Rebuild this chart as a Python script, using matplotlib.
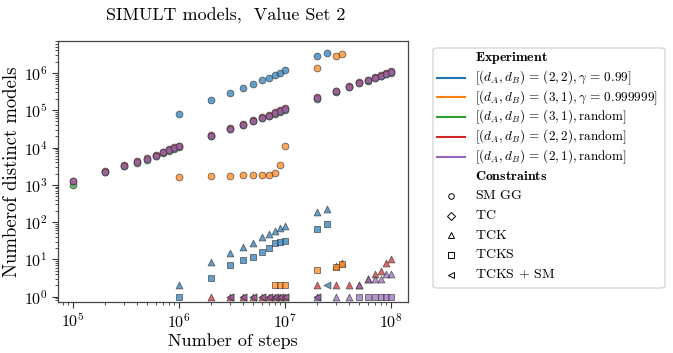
import matplotlib
matplotlib.use('Agg')
import matplotlib.pyplot as plt
from matplotlib.lines import Line2D
from matplotlib.patches import FancyBboxPatch

plt.rcParams['font.family'] = 'serif'
plt.rcParams['font.serif'] = ['cmr10', 'DejaVu Serif']
plt.rcParams['mathtext.fontset'] = 'cm'
plt.rcParams['axes.formatter.use_mathtext'] = True

# step grids
steps_low = [1e5, 2e5, 3e5, 4e5, 5e5, 6e5, 7e5, 8e5, 9e5, 1e6]
steps_mid = [2e6, 3e6, 4e6, 5e6, 6e6, 7e6, 8e6, 9e6, 1e7]
steps_high = [2e7, 3e7, 4e7, 5e7, 6e7, 7e7, 8e7, 9e7, 1e8]
steps_random = steps_low + steps_mid + steps_high

# (2,2) gamma = 0.99
blue_steps = [1e6, 2e6, 3e6, 4e6, 5e6, 6e6, 7e6, 8e6, 9e6, 1e7, 2e7, 2.5e7]
blue_smgg = [8.1e4, 1.87e5, 2.95e5, 4.0e5, 5.2e5, 6.3e5, 7.3e5, 8.8e5, 1.02e6, 1.17e6, 2.76e6, 3.5e6]
blue_tck = [2.1, 8.5, 14.8, 22, 28, 40, 49, 59, 71, 80, 182, 224]
blue_tcks = [1, 3.2, 7.2, 9.4, 11.3, 15.8, 20.5, 27, 29.6, 31, 64, 87]
blue_tcks_sm_steps = [2.5e7]
blue_tcks_sm = [2]

# (3,1) gamma = 0.999999
orange_steps = [1e6, 2e6, 3e6, 4e6, 5e6, 6e6, 7e6, 8e6, 9e6, 1e7, 2e7, 3e7, 3.4e7]
orange_smgg = [1580, 1740, 1750, 1780, 1780, 1780, 1870, 2100, 3450, 11000, 1.38e6, 2.9e6, 3.3e6]
orange_tcks_steps = [8e6, 9e6, 1e7, 2e7, 3e7, 3.4e7]
orange_tcks = [2, 2, 2, 5.3, 6.2, 7.4]
orange_tck_steps = [3e7, 3.4e7]
orange_tck = [6.8, 8.0]

# random experiments, SM GG
purple_smgg = [1230, 2240, 3240, 4100, 4800, 6100, 7400, 8600, 9700, 10700,
               21000, 31600, 41000, 52000, 62000, 72000, 83000, 95000, 107000,
               210000, 320000, 430000, 540000, 630000, 730000, 840000, 950000, 1050000]
red_smgg = [1280, 2300, 3500, 4300, 5200, 6400, 7800, 9000, 10200, 11300,
            22000, 33500, 43500, 55000, 65000, 76000, 87000, 99000, 112000,
            220000, 330000, 450000, 560000, 660000, 760000, 870000, 990000, 1100000]
green_smgg = [1000, 2150, 3100, 3950, 4650, 5900, 7150, 8300, 9400, 10400,
              20400, 30700, 40000, 50500, 60000, 70000, 80500, 92000, 104000,
              205000, 310000, 420000, 525000, 615000, 710000, 815000, 925000, 1020000]

# (2,2) random, low constraints
red_tck_steps = [2e6, 3e6, 4e6, 5e6, 6e6, 7e6, 8e6, 9e6, 1e7,
                 2e7, 3e7, 4e7, 5e7, 6e7, 7e7, 8e7, 9e7, 1e8]
red_tck = [1, 1, 1, 1, 1, 1, 1, 1, 1, 2, 2, 2, 2, 3, 4, 5, 8, 10]
red_tcks_sm_steps = [3e6, 4e6, 5e6, 6e6, 7e6, 8e6, 9e6, 1e7, 2e7]
red_tcks_sm = [1, 1, 1, 1, 1, 1, 1, 1, 1]

# (2,1) random, low constraints
purple_tck_steps = [2e7, 3e7, 4e7, 5e7, 6e7, 7e7, 8e7, 9e7, 1e8]
purple_tck = [1, 1, 1, 2, 3, 3, 3, 4, 4]
purple_tcks_steps = [5e7, 6e7, 7e7, 8e7, 9e7, 1e8]
purple_tcks = [1, 1, 1, 1, 1, 1]
purple_tcks_sm_steps = [3e6, 4e6, 5e6, 6e6, 7e6, 8e6, 9e6, 1e7, 2e7]
purple_tcks_sm = [1, 1, 1, 1, 1, 1, 1, 1, 1]

experiments = [r'$[(d_A, d_B) \,=\, (2, 2), \gamma \,=\, 0.99]$',
               r'$[(d_A, d_B) \,=\, (3, 1), \gamma \,=\, 0.999999]$',
               r'$[(d_A, d_B) \,=\, (3, 1), \mathrm{random}]$',
               r'$[(d_A, d_B) \,=\, (2, 2), \mathrm{random}]$',
               r'$[(d_A, d_B) \,=\, (2, 1), \mathrm{random}]$']
colors = ['tab:blue', 'tab:orange', 'tab:green', 'tab:red', 'tab:purple']
constraints = [r'$\mathrm{SM\ GG}$', r'$\mathrm{TC}$', r'$\mathrm{TCK}$', r'$\mathrm{TCKS}$',
               r'$\mathrm{TCKS}\, + \,\mathrm{SM}$']
markers = ['o', 'D', '^', 's', '<']

W, H = 673, 353
fig = plt.figure(figsize=(W / 100, H / 100), dpi=100)
ax = fig.add_axes([0.086, 0.145, 0.52, 0.739])

kw = dict(s=24, alpha=0.7, edgecolors='#333333', linewidths=0.6)


def pts(x, y, c, m):
    ax.scatter(x, y, color=c, marker=m, **kw)


pts(blue_steps, blue_smgg, colors[0], 'o')
pts(blue_steps, blue_tck, colors[0], '^')
pts(blue_steps, blue_tcks, colors[0], 's')
pts(blue_tcks_sm_steps, blue_tcks_sm, colors[0], '<')

pts(orange_steps, orange_smgg, colors[1], 'o')
pts(orange_tck_steps, orange_tck, colors[1], '^')
pts(orange_tcks_steps, orange_tcks, colors[1], 's')

pts(steps_random, green_smgg, colors[2], 'o')

pts(steps_random, red_smgg, colors[3], 'o')
pts(red_tck_steps, red_tck, colors[3], '^')
pts(red_tcks_sm_steps, red_tcks_sm, colors[3], '<')

pts(steps_random, purple_smgg, colors[4], 'o')
pts(purple_tck_steps, purple_tck, colors[4], '^')
pts(purple_tcks_steps, purple_tcks, colors[4], 's')
pts(purple_tcks_sm_steps, purple_tcks_sm, colors[4], '<')

ax.set_xscale('log')
ax.set_yscale('log')
ax.set_xlim(7.2e4, 1.43e8)
ax.set_ylim(0.73, 7.2e6)
ax.set_xlabel('Number of steps', fontsize=13, labelpad=2)
ax.set_ylabel('Numberof distinct models', fontsize=13.5, labelpad=2)
ax.tick_params(labelsize=11.5, direction='out', length=4, width=0.8, colors='#333333', labelcolor='black')
ax.tick_params(which='minor', length=2, width=0.6, colors='#333333')
for sp in ax.spines.values():
    sp.set_color('#444444')
    sp.set_linewidth(0.9)

fig.text(0.336, 0.956, 'SIMULT models,  Value Set 2', fontsize=13, ha='center', va='center')

# legend drawn row by row so that every row gets the same height
frame = FancyBboxPatch((433 / W, 1 - 288 / H), 232 / W, 240 / H,
                       boxstyle='round,pad=0,rounding_size=0.006', transform=fig.transFigure,
                       facecolor='white', edgecolor='#cccccc', linewidth=0.8)
fig.add_artist(frame)

rows = ['head'] + list(range(5)) + ['head'] + list(range(5))
row_y = [58 + 19.7 * i for i in range(12)]
text_x = 475 / W
fs = 9.5
for i, (kind, y) in enumerate(zip(rows, row_y)):
    yf = 1 - y / H
    if kind == 'head':
        lab = r'$\mathbf{Experiment}$' if i == 0 else r'$\mathbf{Constraints}$'
        fig.text(text_x, yf, lab, fontsize=10, ha='left', va='center')
    elif i < 6:
        fig.add_artist(Line2D([437 / W, 465 / W], [yf, yf], color=colors[kind], lw=1.5,
                              transform=fig.transFigure))
        fig.text(text_x, yf, experiments[kind], fontsize=fs, ha='left', va='center')
    else:
        fig.add_artist(Line2D([451 / W], [yf], color='black', marker=markers[kind], markersize=4,
                              markerfacecolor='none', markeredgewidth=0.7, linestyle='none',
                              transform=fig.transFigure))
        fig.text(text_x, yf, constraints[kind], fontsize=10, ha='left', va='center')

fig.savefig('out.png', dpi=100)
